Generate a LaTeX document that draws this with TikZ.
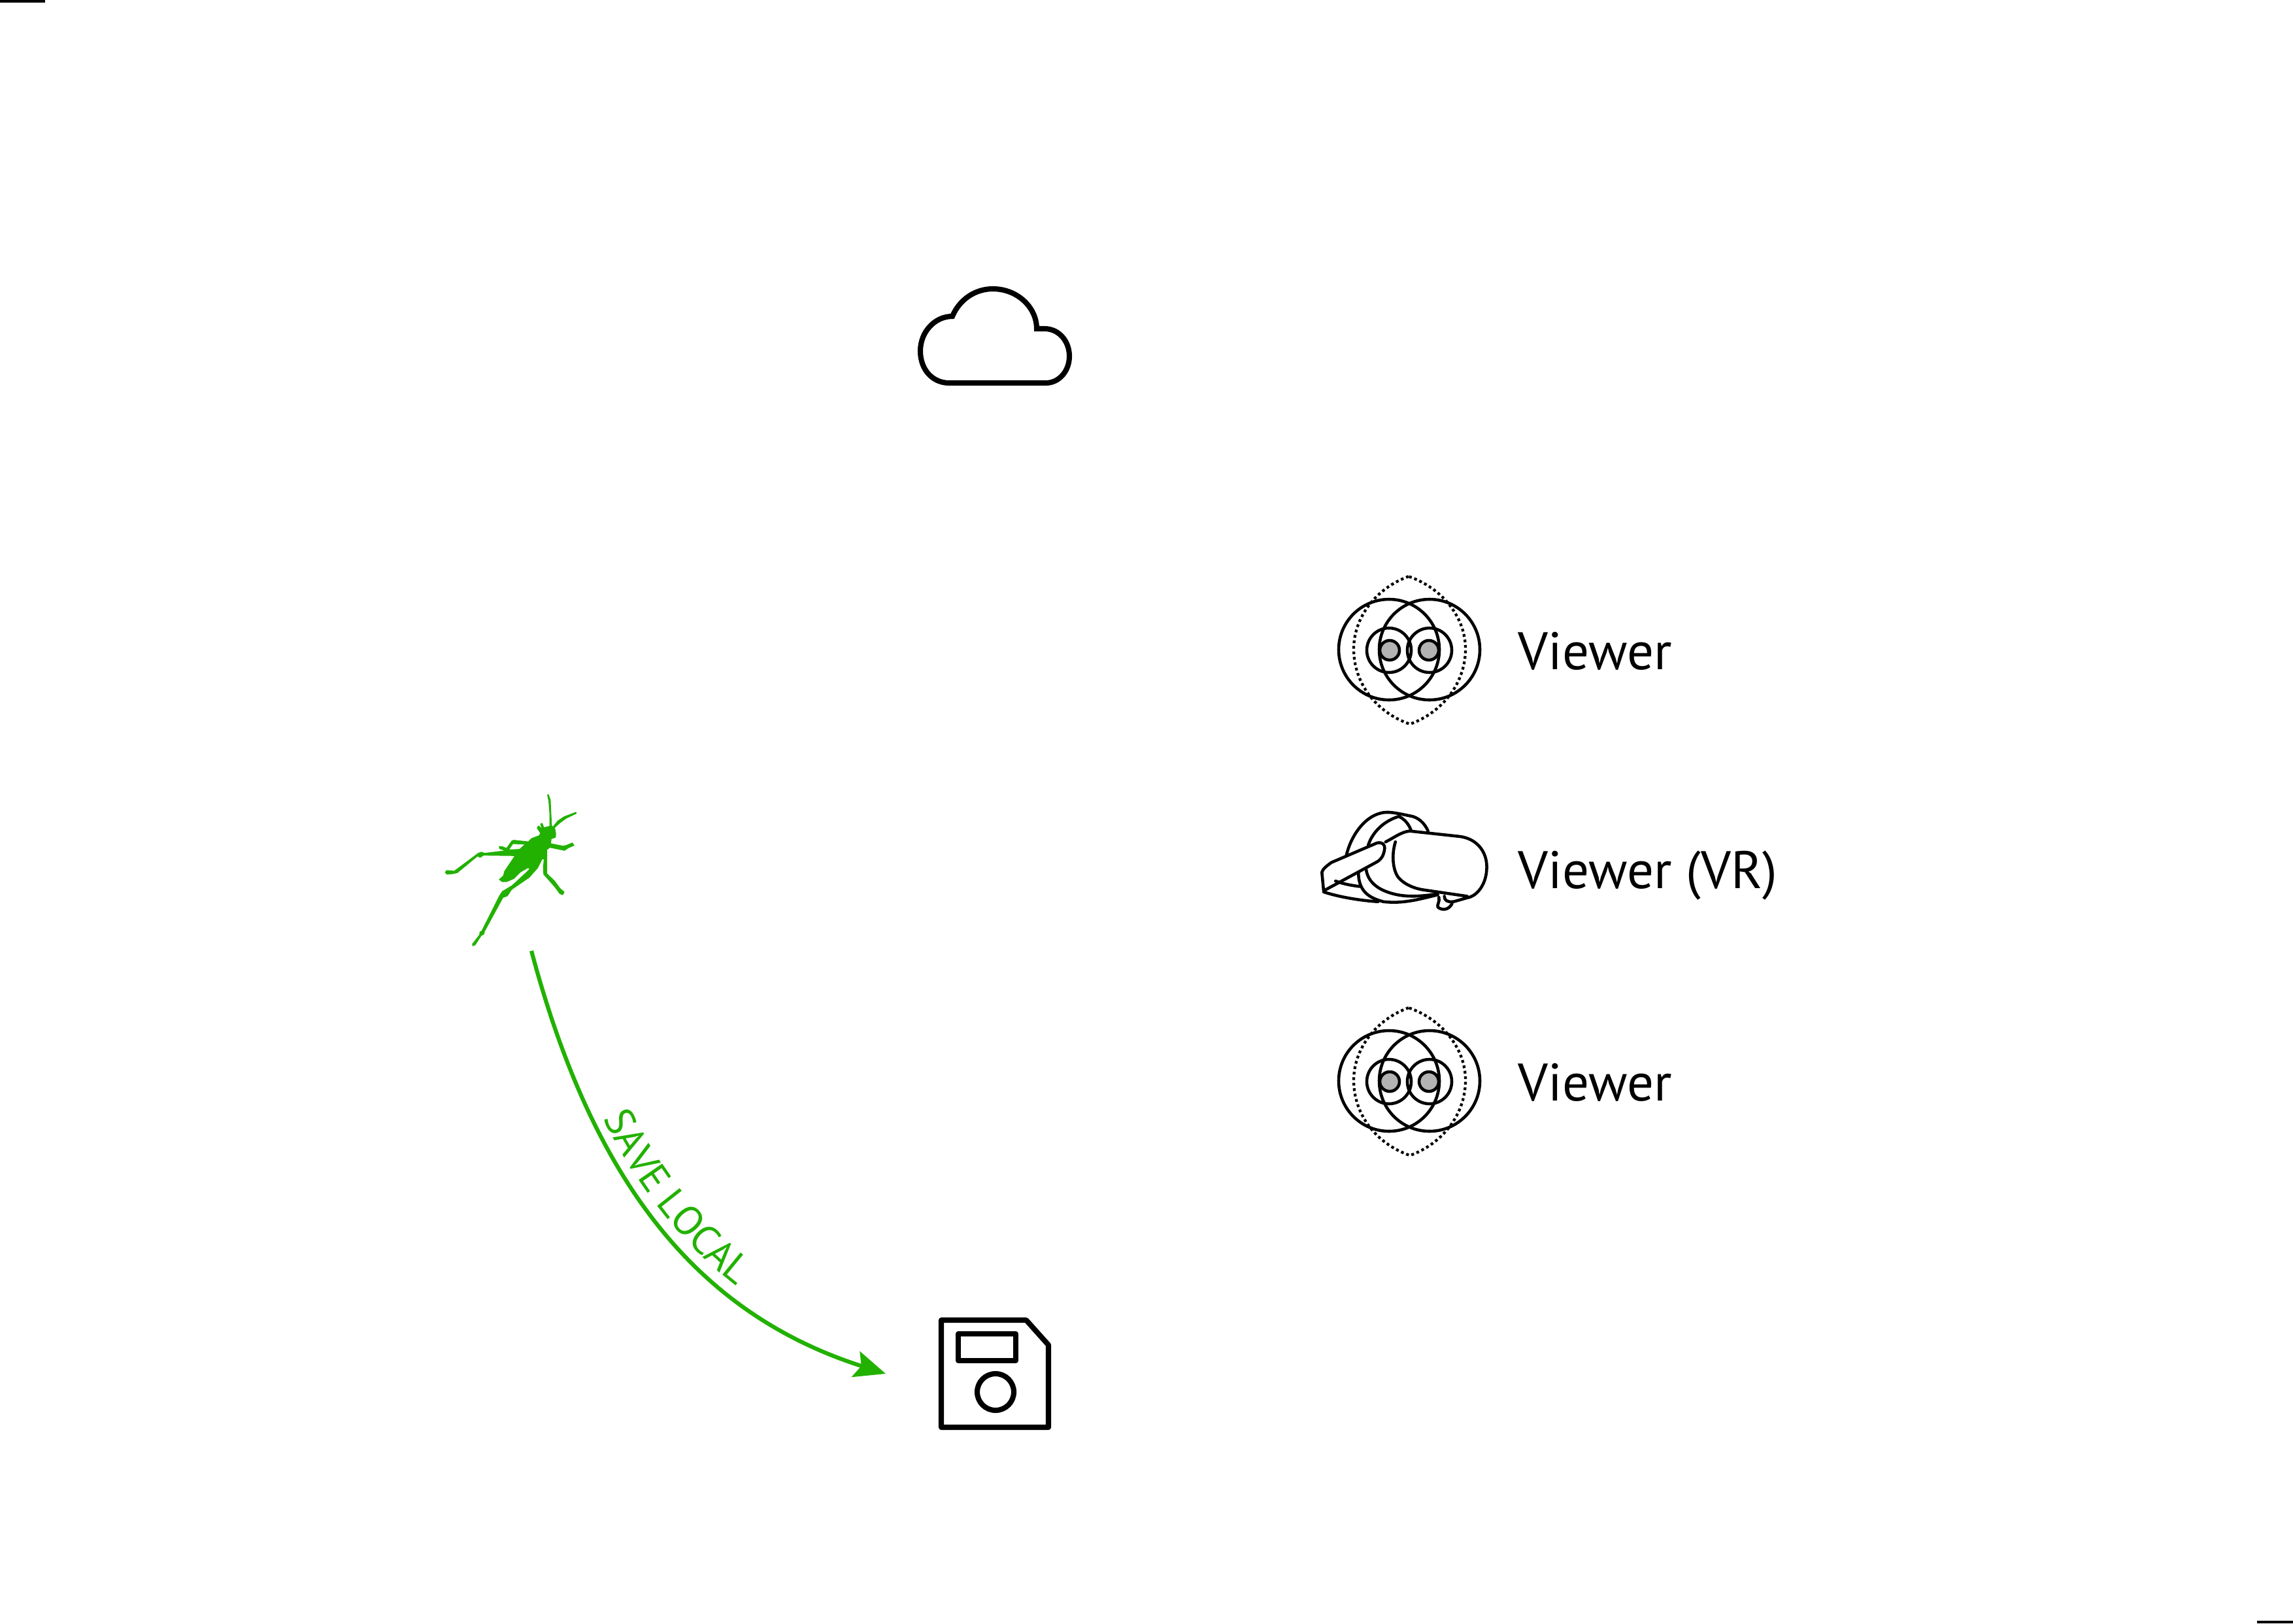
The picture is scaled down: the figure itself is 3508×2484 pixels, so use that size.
\documentclass[tikz,border=0pt]{standalone}
\usepackage{xcolor}
\usepackage{fontspec}
\setmainfont{PT Sans}
\usetikzlibrary{positioning,calc,arrows.meta,decorations.text}
\definecolor{hopgreen}{RGB}{34,177,0}
\definecolor{eyegray}{RGB}{179,179,179}
\tikzset{
	iconline/.style={line width=2.3pt,line join=round},
	thinline/.style={line width=1.3pt,line cap=round,line join=round},
	viewerlabel/.style={anchor=base west,inner sep=0pt,font=\fontsize{23}{27}\selectfont},
	viewericon/.pic={
		\draw[thinline] (-31,0) circle (77);
		\draw[thinline] (31,0) circle (77);
		\draw[thinline] (-31,1) circle (34);
		\draw[thinline] (31,1) circle (34);
		\draw[thinline,fill=eyegray] (-30,1) circle (15);
		\draw[thinline,fill=eyegray] (30,1) circle (15);
		% contorno punteado
		\draw[line width=1.2pt,dash pattern=on 1.2pt off 1.2pt] (-1,-112) .. controls (-51,-94) and (-85,-49) .. (-85,-1) .. controls (-85,51) and (-51,96) .. (1,114) .. controls (51,96) and (86,51) .. (86,-1) .. controls (86,-49) and (51,-94) .. (-1,-112);
	}
}
\begin{document}
\begin{tikzpicture}[x=0.01cm,y=-0.01cm]
	\useasboundingbox (0,0) rectangle (3508,2484);
	
	% marcas de las esquinas
	\fill (0,0) rectangle (69,4);
	\fill (3453,2480) rectangle (3508,2484);
	
	% nube
	\draw[iconline,line join=miter] (1452,586) .. controls (1427,586) and (1408,566) .. (1408,537) .. controls (1408,508) and (1430,484) .. (1457,484) .. controls (1468,458) and (1492,442) .. (1519,442) .. controls (1556,442) and (1586,470) .. (1586,503) -- (1598,503) .. controls (1620,503) and (1636,522) .. (1636,545) .. controls (1636,568) and (1620,586) .. (1600,586) -- cycle;
	
	% disquete
	\draw[iconline] (1440,2020) -- (1570,2020) -- (1604,2058) -- (1604,2184) -- (1440,2184) -- cycle;
	\draw[iconline] (1466,2041) rectangle (1554,2082);
	\draw[iconline] (1523,2130) circle (28);
	
	% visores
	\foreach \yy/\nm in {994/viewerTop,1654/viewerBottom} {
		\pic at (2156,\yy) {viewericon};
		\node[viewerlabel] (\nm) at (2322,\yy+30) {Viewer};
	}
	\node[viewerlabel] (viewerVR) at (2322,1359) {Viewer (VR)};
	
	% casco VR
	\begin{scope}[shift={(2000,1220)},x=0.00333cm,y=-0.00333cm]
		\draw[thinline] (360,205) .. controls (400,185) and (430,160) .. (470,155) -- (700,180) .. controls (780,190) and (825,250) .. (825,320) .. controls (825,400) and (780,455) .. (735,462) -- (665,482);
		\draw[thinline] (405,205) .. controls (385,270) and (395,340) .. (420,370) .. controls (450,405) and (500,420) .. (530,425) -- (735,455);
		\draw[thinline] (605,460) .. controls (610,480) and (595,495) .. (600,505) .. controls (620,522) and (650,518) .. (665,490);
		\draw[thinline] (630,455) .. controls (630,475) and (645,482) .. (668,480);
		\draw[thinline] (270,330) .. controls (280,400) and (340,430) .. (400,445) .. controls (460,460) and (530,455) .. (590,445);
		\draw[thinline] (235,345) .. controls (235,420) and (270,460) .. (350,480) .. controls (440,490) and (510,470) .. (600,448);
		\draw[thinline,fill=white] (75,430) -- (67,345) .. controls (70,330) and (90,315) .. (110,300) -- (320,210) .. controls (345,205) and (358,215) .. (355,240) .. controls (350,270) and (340,285) .. (320,297) -- cycle;
		\draw[thinline] (75,435) .. controls (150,460) and (250,475) .. (325,480);
		\draw[thinline] (130,385) .. controls (170,400) and (205,405) .. (240,410);
		\draw[thinline] (180,265) .. controls (200,180) and (260,90) .. (340,72) .. controls (370,65) and (400,70) .. (470,85) .. controls (510,90) and (540,120) .. (555,155);
		\draw[thinline] (280,220) .. controls (300,160) and (350,110) .. (420,88) .. controls (450,100) and (470,130) .. (478,155);
	\end{scope}
	
	% saltamontes
	\begin{scope}[shift={(640,1180)},x=0.00333cm,y=-0.00333cm]
		\fill[hopgreen,even odd rule] (603,252) -- (603,200) -- (598,135) -- (592,110) -- (598,105) -- (608,130) -- (614,250) -- (618,255) -- (640,228) -- (670,208) -- (725,187) -- (728,195) -- (680,218) -- (650,240) -- (628,260) -- (633,285) -- (632,305) -- (612,312) -- (610,332) -- (665,343) -- (680,340) -- (708,328) -- (718,342) -- (690,354) -- (672,366) -- (605,352) -- (592,362) -- (592,420) -- (592,470) -- (628,505) -- (652,538) -- (672,555) -- (665,570) -- (650,565) -- (628,535) -- (608,512) -- (575,475) -- (573,440) -- (577,405) -- (570,405) -- (550,445) -- (510,490) -- (430,545) -- (410,575) -- (390,582) -- (305,738) -- (303,750) -- (290,757) -- (262,800) -- (250,805) -- (247,795) -- (280,752) -- (282,738) -- (290,735) -- (372,572) -- (385,552) -- (430,525) -- (490,470) -- (510,450) -- (505,445) -- (470,465) -- (440,495) -- (405,510) -- (385,510) -- (370,498) -- (390,480) -- (395,460) -- (442,390) -- (300,388) -- (285,398) -- (272,392) -- (180,468) -- (160,473) -- (130,475) -- (122,465) -- (130,455) -- (165,458) -- (275,376) -- (290,371) -- (305,376) -- (395,365) -- (372,357) -- (370,345) -- (385,345) -- (405,353) -- (430,318) -- (440,316) -- (505,323) -- (520,308) -- (555,295) -- (560,285) -- (545,262) -- (550,250) -- (560,255) -- (567,265) -- (560,242) -- (570,238) -- (578,258) -- cycle
			(435,335) -- (488,337) -- (465,358) -- (418,360) -- cycle;
	\end{scope}
	
	% flecha y texto
	\coordinate (saveStart) at (813,1455);
	\coordinate (saveEnd) at (1355,2102);
	\draw[hopgreen,line width=1.75pt,-{Stealth[length=13.6pt,width=11.6pt,inset=2.5pt]}] (saveStart) .. controls (905,1800) and (1060,2008) .. (saveEnd);
	\path[decorate,decoration={text along path,raise=4.3pt,text align={left indent=80pt},text={|\fontsize{17.8}{20}\selectfont\color{hopgreen}|SAVE LOCAL}}] (saveStart) .. controls (905,1800) and (1060,2008) .. (saveEnd);
\end{tikzpicture}
\end{document}
